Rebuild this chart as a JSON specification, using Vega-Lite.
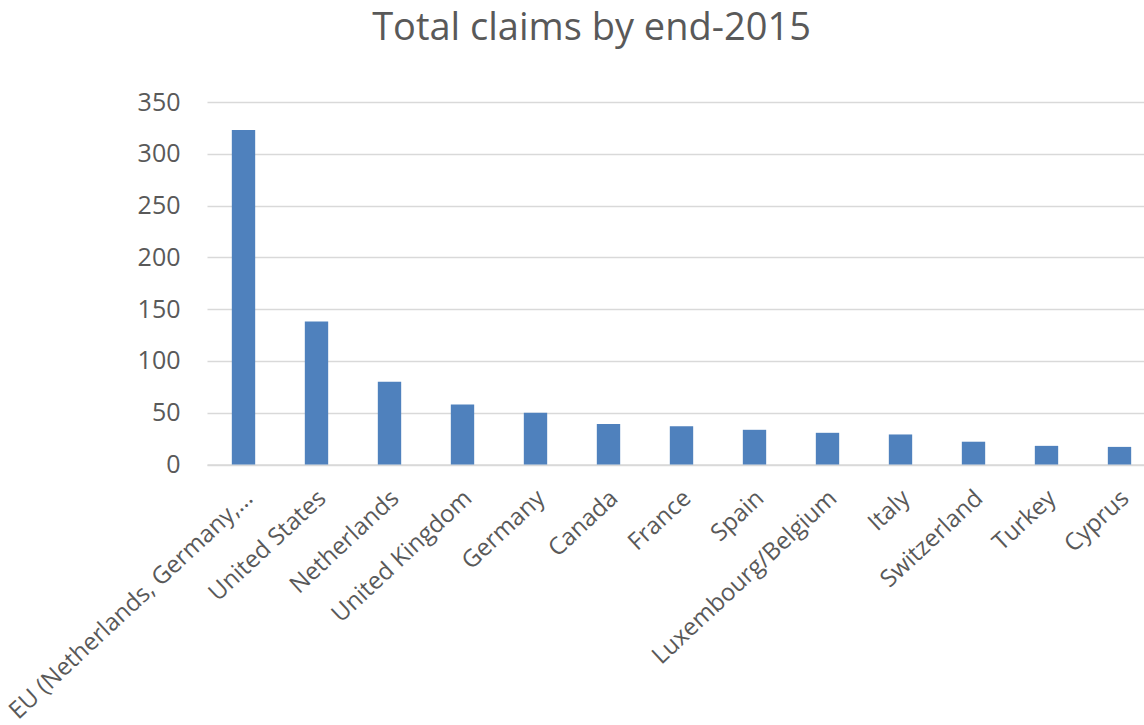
{
  "$schema": "https://vega.github.io/schema/vega-lite/v6.json",
  "autosize": {"type": "none"},
  "padding": {"left": 207, "top": 102, "right": -12, "bottom": 260},
  "width": 949,
  "height": 362.5,
  "background": "white",
  "title": {
    "text": "Total claims by end-2015",
    "font": "Open Sans",
    "fontSize": 38,
    "fontWeight": "normal",
    "color": "#595959",
    "anchor": "middle",
    "frame": "group",
    "dx": -90,
    "baseline": "alphabetic",
    "offset": 12
  },
  "data": {
    "values": [
      {"country": "EU (Netherlands, Germany,…", "claims": 323},
      {"country": "United States", "claims": 138},
      {"country": "Netherlands", "claims": 80},
      {"country": "United Kingdom", "claims": 58},
      {"country": "Germany", "claims": 50},
      {"country": "Canada", "claims": 39},
      {"country": "France", "claims": 37},
      {"country": "Spain", "claims": 33.5},
      {"country": "Luxembourg/Belgium", "claims": 30.6},
      {"country": "Italy", "claims": 29},
      {"country": "Switzerland", "claims": 22},
      {"country": "Turkey", "claims": 18},
      {"country": "Cyprus", "claims": 17}
    ]
  },
  "mark": {"type": "bar", "color": "#4f81bd"},
  "encoding": {
    "x": {
      "field": "country",
      "type": "nominal",
      "sort": null,
      "scale": {"paddingInner": 0.68, "paddingOuter": 0.34},
      "axis": {
        "title": null,
        "labelAngle": -43,
        "labelAlign": "right",
        "labelBaseline": "middle",
        "labelFont": "Open Sans",
        "labelFontSize": 24,
        "labelColor": "#595959",
        "labelPadding": 30,
        "labelOffset": 6,
        "labelLimit": 0,
        "ticks": false,
        "domainColor": "#d9d9d9",
        "domainWidth": 1.5,
        "grid": false
      }
    },
    "y": {
      "field": "claims",
      "type": "quantitative",
      "scale": {"domain": [0, 350], "nice": false},
      "axis": {
        "title": null,
        "values": [0, 50, 100, 150, 200, 250, 300, 350],
        "labelFont": "Open Sans",
        "labelFontSize": 25,
        "labelColor": "#595959",
        "labelPadding": 27,
        "ticks": false,
        "domain": false,
        "gridColor": "#d9d9d9",
        "gridWidth": 1.5
      }
    }
  },
  "config": {"view": {"stroke": null}}
}
